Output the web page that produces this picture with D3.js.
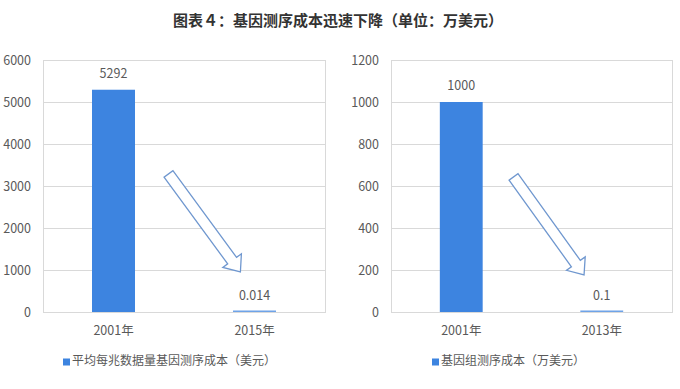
<!DOCTYPE html>
<html lang="zh-CN">
<head>
<meta charset="utf-8">
<script src="https://cdn.jsdelivr.net/npm/d3@7"></script>
<style>
  body { margin: 0; background: #fff; }
  svg { display: block; font-family: "Noto Sans CJK SC", "Microsoft YaHei", sans-serif; }
</style>
</head>
<body>
<svg id="chart"></svg>
<script>
// 数据
const titleText = "图表4：基因测序成本迅速下降（单位：万美元）";

const leftCategories = ["2001年", "2015年"];
const leftValues = [5292, 0.014];
const leftValueLabels = ["5292", "0.014"];
const leftTicks = [0, 1000, 2000, 3000, 4000, 5000, 6000];
const leftLegend = "平均每兆数据量基因测序成本（美元）";

const rightCategories = ["2001年", "2013年"];
const rightValues = [1000, 0.1];
const rightValueLabels = ["1000", "0.1"];
const rightTicks = [0, 200, 400, 600, 800, 1000, 1200];
const rightLegend = "基因组测序成本（万美元）";

const width = 680, height = 389;
const barColor = "#3d84e0";
const textColor = "#595959";
const gridColor = "#d9d9d9";

const svg = d3.select("#chart").attr("width", width).attr("height", height);

svg.append("text")
    .attr("x", 338).attr("y", 22)
    .attr("text-anchor", "middle").attr("dominant-baseline", "middle")
    .attr("font-size", 15).attr("font-weight", "bold").attr("fill", "#333")
    .style("font-feature-settings", "'fwid' 1")
    .text(titleText);

drawPanel({
    categories: leftCategories, values: leftValues, labels: leftValueLabels,
    ticks: leftTicks, legend: leftLegend,
    x0: 43, x1: 325, y0: 60, y1: 312, legendX: 63,
    arrow: { tail: [0.445, 0.452], tip: [0.70, 0.841] }
});
drawPanel({
    categories: rightCategories, values: rightValues, labels: rightValueLabels,
    ticks: rightTicks, legend: rightLegend,
    x0: 391, x1: 672, y0: 60, y1: 312, legendX: 432,
    arrow: { tail: [0.436, 0.464], tip: [0.687, 0.853] }
});

function drawPanel(cfg) {
    const g = svg.append("g");

    const x = d3.scaleBand()
        .domain(cfg.categories)
        .range([cfg.x0, cfg.x1])
        .padding(0);
    const y = d3.scaleLinear()
        .domain([0, d3.max(cfg.ticks)])
        .range([cfg.y1, cfg.y0]);

    // 网格线
    g.selectAll(".grid").data(cfg.ticks).enter().append("line")
        .attr("x1", cfg.x0).attr("x2", cfg.x1)
        .attr("y1", d => y(d) + 0.5).attr("y2", d => y(d) + 0.5)
        .attr("stroke", gridColor);
    g.append("rect")
        .attr("x", cfg.x0 + 0.5).attr("y", cfg.y0 + 0.5)
        .attr("width", cfg.x1 - cfg.x0).attr("height", cfg.y1 - cfg.y0)
        .attr("fill", "none").attr("stroke", gridColor);

    // y 轴
    const yAxis = g.append("g")
        .attr("transform", `translate(${cfg.x0 - 12},0)`)
        .call(d3.axisLeft(y).tickValues(cfg.ticks).tickFormat(d3.format("d")).tickSize(0).tickPadding(0));
    yAxis.select(".domain").remove();
    yAxis.selectAll("text")
        .attr("fill", textColor).attr("font-size", 12.5)
        .style("font-family", "'Noto Sans CJK SC', sans-serif");

    // x 轴
    const xAxis = g.append("g")
        .attr("transform", `translate(0,${cfg.y1 + 14})`)
        .call(d3.axisBottom(x).tickSize(0).tickPadding(0));
    xAxis.select(".domain").remove();
    xAxis.selectAll("text")
        .attr("fill", textColor).attr("font-size", 12.5)
        .attr("dy", "0.71em")
        .style("font-family", "'Noto Sans CJK SC', sans-serif");

    // 柱子
    const bw = x.bandwidth() * 0.305;
    g.selectAll(".bar").data(cfg.values).enter().append("rect")
        .attr("x", (d, i) => x(cfg.categories[i]) + (x.bandwidth() - bw) / 2)
        .attr("y", d => Math.min(y(d), cfg.y1 - 1.5))
        .attr("width", bw)
        .attr("height", d => Math.max(cfg.y1 - y(d), 1.5))
        .attr("fill", barColor)
        .attr("fill-opacity", d => cfg.y1 - y(d) < 2 ? 0.75 : 1);

    // 数值标签
    g.selectAll(".lbl").data(cfg.values).enter().append("text")
        .attr("x", (d, i) => x(cfg.categories[i]) + x.bandwidth() / 2)
        .attr("y", d => y(d) - 15)
        .attr("text-anchor", "middle").attr("dominant-baseline", "middle")
        .attr("font-size", 12.5).attr("fill", textColor)
        .text((d, i) => cfg.labels[i]);

    // 箭头
    const pw = cfg.x1 - cfg.x0, ph = cfg.y1 - cfg.y0;
    const t = [cfg.x0 + cfg.arrow.tail[0] * pw, cfg.y0 + cfg.arrow.tail[1] * ph];
    const p = [cfg.x0 + cfg.arrow.tip[0] * pw, cfg.y0 + cfg.arrow.tip[1] * ph];
    const dx = p[0] - t[0], dy = p[1] - t[1];
    const len = Math.hypot(dx, dy);
    const ux = dx / len, uy = dy / len, nx = -uy, ny = ux;
    const sw = 5.5, hw = 11.5, hl = 14;
    const b = [p[0] - ux * hl, p[1] - uy * hl];
    const pts = [
        [t[0] + nx * sw, t[1] + ny * sw],
        [b[0] + nx * sw, b[1] + ny * sw],
        [b[0] + nx * hw, b[1] + ny * hw],
        p,
        [b[0] - nx * hw, b[1] - ny * hw],
        [b[0] - nx * sw, b[1] - ny * sw],
        [t[0] - nx * sw, t[1] - ny * sw]
    ];
    g.append("path")
        .attr("d", d3.line()(pts) + "Z")
        .attr("fill", "#fff").attr("stroke", "#6f97cf").attr("stroke-width", 1.3)
        .attr("stroke-linejoin", "miter");

    // 图例
    const lg = g.append("g").attr("transform", `translate(${cfg.legendX},362)`);
    lg.append("rect").attr("x", 0).attr("y", -3.5).attr("width", 7).attr("height", 7)
        .attr("fill", barColor);
    lg.append("text").attr("x", 9).attr("y", 0)
        .attr("dominant-baseline", "middle")
        .attr("font-size", 12).attr("fill", textColor)
        .text(cfg.legend);
}
</script>
</body>
</html>
